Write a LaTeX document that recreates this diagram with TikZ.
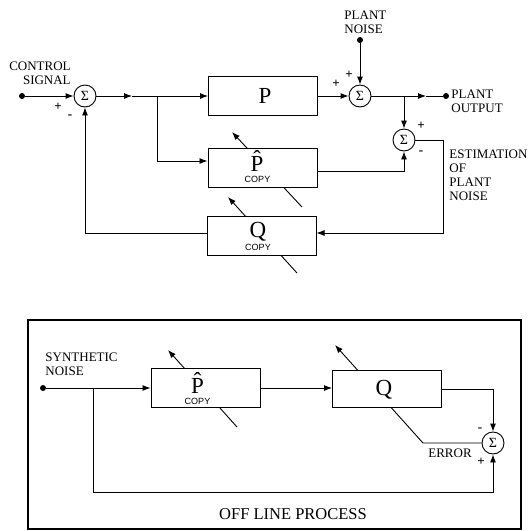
\documentclass[tikz,border=0pt]{standalone}
\usepackage{fontspec}
\setmainfont{Liberation Serif}
\newfontfamily\copyfont{Liberation Sans}
\usetikzlibrary{arrows.meta}
\begin{document}
\begin{tikzpicture}[x=1pt,y=-1pt, line width=0.9pt,
  >={Latex[length=8pt,width=6pt]},
  blk/.style={draw, line width=1pt, fill=white, minimum width=109pt, minimum height=39pt, inner sep=0pt},
  bigtxt/.style={font=\fontsize{23}{23}\selectfont, inner sep=0pt, anchor=base},
  cpytxt/.style={font=\copyfont\fontsize{9}{9}\selectfont, inner sep=0pt, anchor=base},
  sumnode/.style={draw, circle, minimum size=22pt, inner sep=0pt, font=\fontsize{14}{14}\selectfont, fill=white},
  lbl/.style={font=\fontsize{13}{14}\selectfont, inner sep=0pt},
  dotnode/.style={circle, fill, inner sep=0pt, minimum size=6pt},
  sgn/.style={font=\fontsize{13}{13}\selectfont\bfseries, inner sep=0pt},
]
\useasboundingbox[fill=white] (0,0) rectangle (530,531);

% ---------- top diagram ----------
\coordinate (a1s) at (302,207); \coordinate (a1e) at (232,132);
\coordinate (a2s) at (297,273); \coordinate (a2e) at (228,197);
\draw[->] (a1s) -- (a1e);
\draw[->] (a2s) -- (a2e);

\node[dotnode] (cs) at (22,96) {};
\node[lbl, align=right] (cslbl) at (40,73) {CONTROL\\SIGNAL};
\node[sumnode] (s1) at (85,96) {Σ};
\node[sgn] (s1p) at (58,107) {+};
\node[sgn] (s1m) at (70,117) {-};
\coordinate (m1) at (132,96);
\coordinate (br1) at (157,96);

\node[blk] (P) at (263,96) {};
\node[bigtxt] (PP) at (265,103.5) {P};
\node[blk] (Ph) at (262.5,167.5) {};
\node[bigtxt] (PhP) at (257,171) {P̂};
\node[cpytxt] (PhC) at (257.5,182) {COPY};
\node[blk] (Qc) at (261.5,236) {};
\node[bigtxt] (QcQ) at (258,237) {Q};
\node[cpytxt] (QcC) at (258,250) {COPY};

\node[sumnode] (s2) at (360,96) {Σ};
\node[sgn] (s2p1) at (336,84) {+};
\node[sgn] (s2p2) at (349,75) {+};
\node[dotnode] (pn) at (360,40) {};
\node[lbl, align=left, anchor=west] (pnl) at (344,22) {PLANT\\NOISE};

\coordinate (br2) at (404,96);
\coordinate (m2) at (426,96);
\node[dotnode] (po) at (446,96) {};
\node[lbl, align=left, anchor=west] (pol) at (451,101.5) {PLANT\\OUTPUT};

\node[sumnode] (s3) at (404,140) {Σ};
\node[sgn] (s3p) at (421,126) {+};
\node[sgn] (s3m) at (421,153) {-};
\node[lbl, align=left, anchor=west] (est) at (449,175) {ESTIMATION\\OF\\PLANT\\NOISE};
\coordinate (c3) at (443,233);

\draw[->] (cs) -- (s1);
\draw[->] (s1) -- (m1);
\draw[->] (m1) -- (P.west);
\draw[->] (br1) |- (Ph.west |- 0,161);
\draw[->] (P) -- (s2);
\draw[->] (pn) -- (s2);
\draw[->] (s2) -- (m2);
\draw (m2) -- (po);
\draw[->] (br2) -- (s3);
\draw[->] (Ph.east |- 0,171) -| (s3.south);
\draw[->] (s3.east) -| (c3) -- (Qc.east |- c3);
\draw[->] (Qc.west |- 0,233) -| (s1.south);

% ---------- bottom diagram ----------
\draw[line width=1.1pt] (28,320) rectangle (521,529);
\node[dotnode] (sn) at (43,388) {};
\node[lbl, align=left, anchor=west] (snl) at (45,364) {SYNTHETIC\\NOISE};
\node[sumnode] (s4) at (493,443) {Σ};
\node[sgn] (s4m) at (480,430) {-};
\node[sgn] (s4p) at (481,462) {+};
\node[lbl] (err) at (450,453) {ERROR};
\coordinate (e1) at (423,443);
\coordinate (e2) at (335,345);
\coordinate (a3s) at (237,427); \coordinate (a3e) at (168,350);
\draw[->] (s4.west) -- (e1) -- (e2);
\draw[->] (a3s) -- (a3e);

\node[blk] (Ph2) at (205.5,388) {};
\node[bigtxt] (Ph2P) at (197.5,393) {P̂};
\node[cpytxt] (Ph2C) at (197.5,404) {COPY};
\node[blk, minimum height=37pt] (Q2) at (387,389) {};
\node[bigtxt] (Q2Q) at (384,395) {Q};
\coordinate (br3) at (93,388);
\coordinate (c4) at (93,492);

\draw[->] (sn) -- (Ph2);
\draw[->] (Ph2) -- (Q2.west |- Ph2);
\draw[->] (Q2.east) -| (s4.north);
\draw[->] (br3) -- (c4) -| (s4.south);

\node[font=\fontsize{16.5}{16.5}\selectfont, inner sep=0pt] (off) at (293,514) {OFF LINE PROCESS};
\end{tikzpicture}
\end{document}
